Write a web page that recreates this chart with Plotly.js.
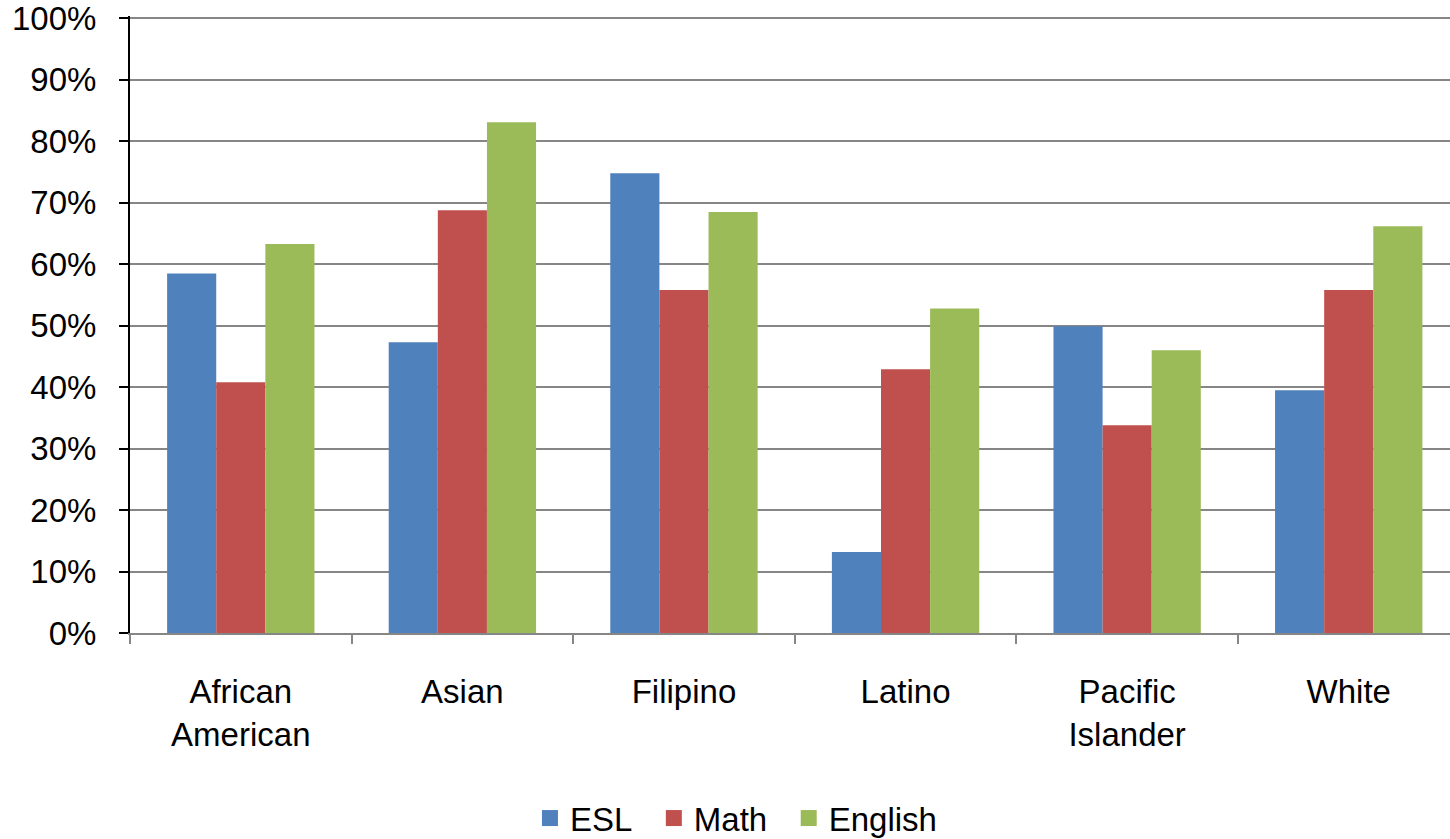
<!DOCTYPE html>
<html>
<head>
<meta charset="utf-8">
<script src="https://cdn.plot.ly/plotly-3.0.1.min.js"></script>
<style>
html,body{margin:0;padding:0;background:#fff;overflow:hidden;}
#chart{width:1450px;height:839px;}
</style>
</head>
<body>
<div id="chart"></div>
<script>
const categories = ["African<br>American", "Asian", "Filipino", "Latino", "Pacific<br>Islander", "White"];
const eslValues = [0.585, 0.473, 0.748, 0.132, 0.499, 0.395];
const mathValues = [0.408, 0.688, 0.558, 0.429, 0.338, 0.558];
const englishValues = [0.633, 0.831, 0.685, 0.528, 0.460, 0.662];
const seriesNames = ["ESL", "Math", "English"];
const seriesColors = ["#4F81BD", "#C0504D", "#9BBB59"];
const yTickVals = [0, 0.1, 0.2, 0.3, 0.4, 0.5, 0.6, 0.7, 0.8, 0.9, 1.0];
const yTickText = ["0%", "10%", "20%", "30%", "40%", "50%", "60%", "70%", "80%", "90%", "100%"];

const legendPad = ["\u2002", "\u2002", ""];

const allValues = [eslValues, mathValues, englishValues];
const traces = allValues.map((vals, i) => ({
  type: "bar",
  name: seriesNames[i],
  x: categories,
  y: vals,
  marker: {color: seriesColors[i], line: {width: 0}},
  showlegend: false,
  hoverinfo: "x+y"
}));
seriesNames.forEach((n, i) => {
  traces.push({
    type: "scatter",
    mode: "markers",
    name: n + legendPad[i],
    x: [null],
    y: [null],
    marker: {symbol: "square", size: 19, color: seriesColors[i]},
    showlegend: true
  });
});

const font = {family: "Liberation Sans, Arial, sans-serif", size: 33, color: "#000"};

const layout = {
  width: 1450,
  height: 839,
  margin: {l: 130, r: 0, t: 16, b: 206, autoexpand: false},
  paper_bgcolor: "#fff",
  plot_bgcolor: "#fff",
  font: font,
  barmode: "group",
  bargap: 0.335,
  bargroupgap: 0,
  showlegend: true,
  legend: {
    orientation: "h",
    x: 0.303,
    xanchor: "left",
    y: -0.30,
    yanchor: "middle",
    font: font,
    itemwidth: 30,
    traceorder: "normal"
  },
  xaxis: {
    type: "category",
    range: [-0.5, 5.457],
    automargin: false,
    showline: true,
    linecolor: "#868686",
    linewidth: 2,
    ticks: "outside",
    tickson: "boundaries",
    ticklen: 9,
    tickwidth: 2,
    tickcolor: "#868686",
    showgrid: false,
    tickfont: font,
    ticklabelstandoff: 28,
    zeroline: false,
    fixedrange: true
  },
  yaxis: {
    range: [0, 1.004],
    automargin: false,
    tickvals: yTickVals,
    ticktext: yTickText,
    ticklabeloverflow: "allow",
    showline: true,
    linecolor: "#000",
    linewidth: 2,
    ticks: "outside",
    ticklen: 9,
    tickwidth: 2,
    tickcolor: "#000",
    showgrid: true,
    gridcolor: "#868686",
    gridwidth: 2,
    zeroline: false,
    tickfont: font,
    ticklabelstandoff: 16,
    fixedrange: true
  }
};

Plotly.newPlot("chart", traces, layout, {displayModeBar: false, staticPlot: true});
</script>
</body>
</html>
